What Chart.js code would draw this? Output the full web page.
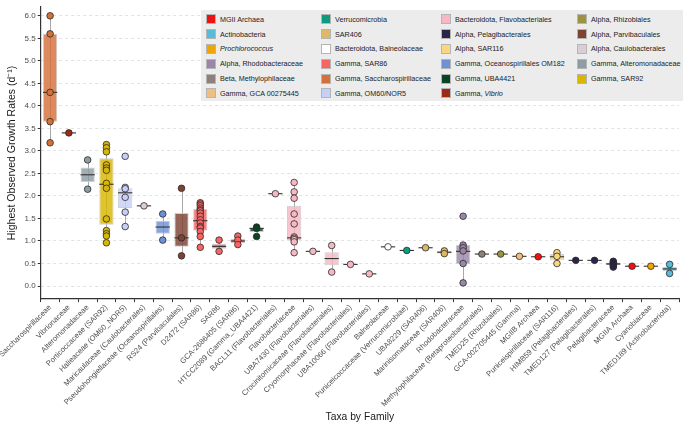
<!DOCTYPE html>
<html>
<head>
<meta charset="utf-8">
<script src="https://cdn.jsdelivr.net/npm/chart.js@4.4.0/dist/chart.umd.min.js"></script>
<style>
  body { margin: 0; background: #fff; }
  #wrap { position: relative; width: 685px; height: 424px; }
  #legend {
    position: absolute; left: 201px; top: 10px; width: 482px; height: 91px;
    background: #ececec; box-sizing: border-box; padding: 2px 0 0 5px;
    display: grid; grid-template-columns: 115px 120px 136px auto;
    grid-template-rows: repeat(6, 14.8px); grid-auto-flow: column;
    font: 7.2px "Liberation Sans", Arial, sans-serif; color: #222;
  }
  .item { display: flex; align-items: center; white-space: nowrap; }
  .sw { width: 10px; height: 10px; border: 1px solid #b5b5b5; box-sizing: border-box; margin-right: 4px; flex: none; }
</style>
</head>
<body>
<div id="wrap">
  <canvas id="chart" width="685" height="424"></canvas>
  <div id="legend"></div>
</div>
<script>
// taxa on the x axis, left to right
const categories = [
  'Saccharospirillaceae', 'Vibrionaceae', 'Alteromonadaceae', 'Porticoccaceae (SAR92)',
  'Halieaceae (OM60_NOR5)', 'Maricaulaceae (Caulobacterales)', 'Pseudohongiellaceae (Oceanospirillales)',
  'RS24 (Parvibaculales)', 'D2472 (SAR86)', 'SAR86', 'GCA-2686405 (SAR86)', 'HTCC2089 (Gamma_UBA4421)',
  'BACL11 (Flavobacteriales)', 'Flavobacteriaceae', 'UBA7430 (Flavobacteriales)',
  'Crocinitomicaceae (Flavobacteriales)', 'Cryomorphaceae (Flavobacteriales)', 'UBA10066 (Flavobacteriales)',
  'Balneolaceae', 'Puniceicoccaceae (Verrucomicrobiae)', 'UBA8229 (SAR406)', 'Marinisomataceae (SAR406)',
  'Rhodobacteraceae', 'Methylophilaceae (Betaproteobacteriales)', 'TMED25 (Rhizobiales)',
  'GCA-002705445 (Gamma)', 'MGIIB Archaea', 'Puniceispirillaceae (SAR116)', 'HIMB59 (Pelagibacterales)',
  'TMED127 (Pelagibacterales)', 'Pelagibacteraceae', 'MGIIA Archaea', 'Cyanobiaceae', 'TMED189 (Actinobacteriota)'
];

// legend groups (column by column)
const legendLabels = [
  'MGII Archaea', 'Actinobacteria', '<i>Prochlorococcus</i>', 'Alpha, Rhodobacteraceae',
  'Beta, Methylophilaceae', 'Gamma, GCA 00275445',
  'Verrucomicrobia', 'SAR406', 'Bacteroidota, Balneolaceae', 'Gamma, SAR86',
  'Gamma, Saccharospirillaceae', 'Gamma, OM60/NOR5',
  'Bacteroidota, Flavobacteriales', 'Alpha, Pelagibacterales', 'Alpha, SAR116',
  'Gamma, Oceanospirillales OM182', 'Gamma, UBA4421', 'Gamma, <i>Vibrio</i>',
  'Alpha, Rhizobiales', 'Alpha, Parvibaculales', 'Alpha, Caulobacterales',
  'Gamma, Alteromonadaceae', 'Gamma, SAR92'
];

// legend group index of each taxon
const groupOf = [10, 17, 21, 22, 11, 20, 15, 19, 9, 9, 9, 16, 12, 12, 12, 12, 12, 12,
                 8, 6, 7, 7, 3, 4, 18, 5, 0, 14, 13, 13, 13, 0, 2, 1];

// observed growth rates (d^-1) per taxon
const rates = [
  [6.0, 5.6, 4.3, 3.65, 3.18],
  [3.4],
  [2.8, 2.15],
  [3.14, 3.07, 2.98, 2.69, 2.62, 2.57, 2.28, 2.17, 1.49, 1.23, 1.16, 1.11, 0.96],
  [2.88, 2.19, 2.16, 1.97, 1.64, 1.32],
  [1.78],
  [1.6, 1.02],
  [2.17, 1.07, 0.67],
  [1.85, 1.82, 1.78, 1.73, 1.69, 1.67, 1.62, 1.55, 1.47, 1.4, 1.32, 1.29, 1.21, 1.1, 0.86],
  [1.02, 0.77],
  [1.11, 1.02, 0.92],
  [1.31, 1.28, 1.1],
  [2.05],
  [2.3, 2.09, 1.95, 1.6, 1.38, 1.09, 1.06, 1.03, 0.98, 0.74],
  [0.77],
  [0.9, 0.31],
  [0.48],
  [0.27],
  [0.87],
  [0.79],
  [0.85],
  [0.78, 0.72],
  [1.55, 0.91, 0.85, 0.78, 0.5, 0.07],
  [0.71],
  [0.71],
  [0.66],
  [0.65],
  [0.74, 0.66, 0.5],
  [0.57],
  [0.57],
  [0.55, 0.52, 0.48, 0.45, 0.42],
  [0.44],
  [0.44],
  [0.48, 0.28]
];

// box statistics
const boxQ1 = [3.65, 3.4, 2.31, 1.36, 1.73, 1.78, 1.16, 0.87, 1.23, 0.83, 0.95, 1.2, 2.05, 1.02, 0.77,
               0.46, 0.48, 0.27, 0.87, 0.79, 0.85, 0.72, 0.49, 0.71, 0.71, 0.66, 0.65, 0.57, 0.57, 0.57,
               0.46, 0.44, 0.44, 0.33];
const boxMedian = [4.3, 3.4, 2.47, 2.26, 2.07, 1.78, 1.31, 1.07, 1.45, 0.88, 1.0, 1.28, 2.05, 1.07, 0.77,
                   0.61, 0.48, 0.27, 0.87, 0.79, 0.85, 0.75, 0.77, 0.71, 0.71, 0.66, 0.65, 0.65, 0.57, 0.57,
                   0.49, 0.44, 0.44, 0.38];
const boxQ3 = [5.6, 3.4, 2.63, 2.84, 2.17, 1.78, 1.45, 1.62, 1.71, 0.94, 1.05, 1.3, 2.05, 1.78, 0.77,
               0.75, 0.48, 0.27, 0.87, 0.79, 0.85, 0.78, 0.91, 0.71, 0.71, 0.66, 0.65, 0.71, 0.57, 0.57,
               0.52, 0.44, 0.44, 0.43];

const yTicks = [0, 0.5, 1, 1.5, 2, 2.5, 3, 3.5, 4, 4.5, 5, 5.5, 6];

const groupColors = [
  '#ee1111', '#58bcd8', '#f0a500', '#9a87a8', '#8c8079', '#f0be80',
  '#0e9a7e', '#ddb865', '#ffffff', '#f76464', '#d4703a', '#c8cff7',
  '#f7b7c3', '#2c2448', '#fad680', '#6e91d6', '#0b4424', '#9c2a17',
  '#9b9342', '#7e4233', '#dccdd3', '#8c9da3', '#d9b700'
];

function withAlpha(hex, a) {
  const n = parseInt(hex.slice(1), 16);
  return `rgba(${n >> 16}, ${(n >> 8) & 255}, ${n & 255}, ${a})`;
}

// legend
const legendEl = document.getElementById('legend');
legendLabels.forEach((lab, i) => {
  const d = document.createElement('div');
  d.className = 'item';
  d.innerHTML = `<span class="sw" style="background:${groupColors[i]}"></span><span>${lab}</span>`;
  legendEl.appendChild(d);
});

// whisker ends (1.5 IQR rule)
const whiskers = categories.map((c, i) => {
  const iqr = boxQ3[i] - boxQ1[i];
  const inside = rates[i].filter(v => v >= boxQ1[i] - 1.5 * iqr && v <= boxQ3[i] + 1.5 * iqr);
  return [Math.min(boxQ1[i], ...inside), Math.max(boxQ3[i], ...inside)];
});

const points = [];
const pointColors = [];
rates.forEach((vals, i) => {
  vals.forEach(v => {
    points.push({ x: categories[i], y: v });
    pointColors.push(groupColors[groupOf[i]]);
  });
});

const boxParts = {
  id: 'boxParts',
  beforeDatasetsDraw(chart) {
    const { ctx, scales: { x, y } } = chart;
    ctx.save();
    ctx.strokeStyle = '#a8a8a8';
    ctx.lineWidth = 1;
    whiskers.forEach(([lo, hi], i) => {
      const px = Math.round(x.getPixelForValue(i)) + 0.5;
      ctx.beginPath();
      ctx.moveTo(px, y.getPixelForValue(lo));
      ctx.lineTo(px, y.getPixelForValue(hi));
      ctx.stroke();
    });
    ctx.restore();
  },
  afterDatasetDraw(chart, args) {
    if (args.index !== 1) return;
    const { ctx, scales: { y } } = chart;
    const meta = chart.getDatasetMeta(1);
    ctx.save();
    ctx.strokeStyle = '#333';
    ctx.lineWidth = 1.1;
    meta.data.forEach((bar, i) => {
      const { x, width } = bar.getProps(['x', 'width'], true);
      const py = y.getPixelForValue(boxMedian[i]);
      ctx.beginPath();
      ctx.moveTo(x - width / 2, py);
      ctx.lineTo(x + width / 2, py);
      ctx.stroke();
    });
    ctx.restore();
  }
};

const font = '"Liberation Sans", Arial, sans-serif';

new Chart(document.getElementById('chart'), {
  type: 'bar',
  data: {
    labels: categories,
    datasets: [{
      type: 'scatter',
      data: points,
      pointRadius: 3.3,
      pointBorderWidth: 0.8,
      pointBorderColor: '#2a2a2a',
      pointBackgroundColor: pointColors
    }, {
      type: 'bar',
      data: categories.map((c, i) => [boxQ1[i], boxQ3[i]]),
      backgroundColor: groupOf.map(g => withAlpha(groupColors[g], 0.82)),
      borderColor: '#cfcfcf',
      borderWidth: 1,
      borderSkipped: false,
      barPercentage: 0.76,
      categoryPercentage: 1
    }]
  },
  options: {
    responsive: false,
    animation: false,
    layout: { padding: { left: 0, right: 6, top: 0, bottom: 0 } },
    plugins: { legend: { display: false }, tooltip: { enabled: false } },
    scales: {
      x: {
        type: 'category',
        offset: true,
        grid: { display: true, drawOnChartArea: false, tickLength: 3, color: '#333', tickColor: '#333' },
        border: { color: '#333', width: 1.2 },
        ticks: {
          autoSkip: false, minRotation: 45, maxRotation: 45, padding: 1,
          color: '#4d4d4d', font: { family: font, size: 7.6 }
        },
        title: {
          display: true, text: 'Taxa by Family', color: '#1a1a1a',
          font: { family: font, size: 10.3 }, padding: { top: 1, bottom: 1 }
        },
        afterFit(scale) { scale.paddingLeft = 0; scale.paddingRight = 0; }
      },
      y: {
        min: -0.29,
        max: 6.2,
        afterBuildTicks(scale) { scale.ticks = yTicks.map(v => ({ value: v })); },
        grid: { color: '#e3e3e3', tickColor: '#333', tickLength: 3, tickBorderDash: [] },
        border: { color: '#333', width: 1.2, dash: [3, 3] },
        ticks: {
          padding: 2, color: '#4d4d4d', font: { family: font, size: 8 },
          callback: v => Number(v).toFixed(1)
        },
        title: {
          display: true, text: 'Highest Observed Growth Rates (d⁻¹)', color: '#1a1a1a',
          font: { family: font, size: 10.5 }, padding: { top: 6, bottom: 4 }
        }
      }
    }
  },
  plugins: [boxParts]
});
</script>
</body>
</html>
